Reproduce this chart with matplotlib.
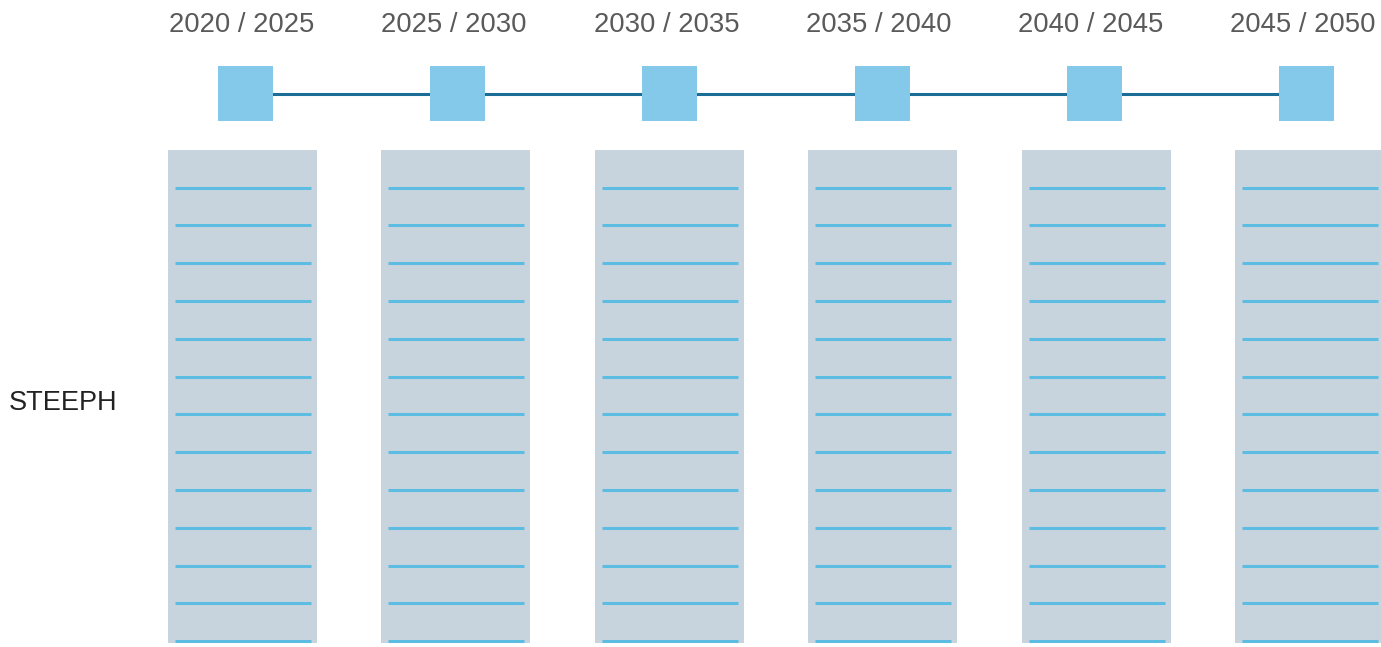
import matplotlib
matplotlib.use("Agg")
import matplotlib.pyplot as plt
from matplotlib.patches import Rectangle

# ---- data ----
periods = ["2020 / 2025", "2025 / 2030", "2030 / 2035", "2035 / 2040", "2040 / 2045", "2045 / 2050"]
row_label = "STEEPH"
n_slots = 13  # empty entry lines per period column

# ---- style ----
W, H = 1381, 647
square_col = "#84c9e9"
link_col = "#1a6e96"
column_col = "#c7d4dd"
slot_col = "#5dbce2"
label_col = "#5a5a5a"

plt.rcParams['font.family'] = ['Liberation Sans', 'DejaVu Sans']
fig = plt.figure(figsize=(W / 100, H / 100), dpi=100)
ax = fig.add_axes([0, 0, 1, 1])
ax.set_xlim(0, W)
ax.set_ylim(H, 0)
ax.axis("off")

sq_x0, sq_step, sq_size, sq_top = 245.5, 212.2, 55, 66
col_x0, col_step, col_w, col_top, col_bot = 168, 213.4, 149, 150, 643
slot_y0, slot_step = 187.5, 37.8

n = len(periods)
centers = [sq_x0 + i * sq_step for i in range(n)]

# connecting line
ax.plot([centers[0], centers[-1]], [94, 94], color=link_col, lw=2.2, zorder=1, solid_capstyle="butt")

for i, p in enumerate(periods):
    cx = centers[i]
    ax.add_patch(Rectangle((cx - sq_size / 2, sq_top), sq_size, sq_size, color=square_col, zorder=2, lw=0))
    ax.text(cx - 3.5, 24.5, p, ha="center", va="center", fontsize=19.8, color=label_col)
    left = col_x0 + i * col_step
    ax.add_patch(Rectangle((left, col_top), col_w, col_bot - col_top, color=column_col, zorder=1, lw=0))
    for k in range(n_slots):
        y = slot_y0 + k * slot_step
        ax.plot([left + 7, left + col_w - 6], [y, y], color=slot_col, lw=2.2, zorder=3, solid_capstyle="butt")

ax.text(9, 402.5, row_label, ha="left", va="center", fontsize=19.5, color="#222222")

fig.savefig("out.png", dpi=100)
